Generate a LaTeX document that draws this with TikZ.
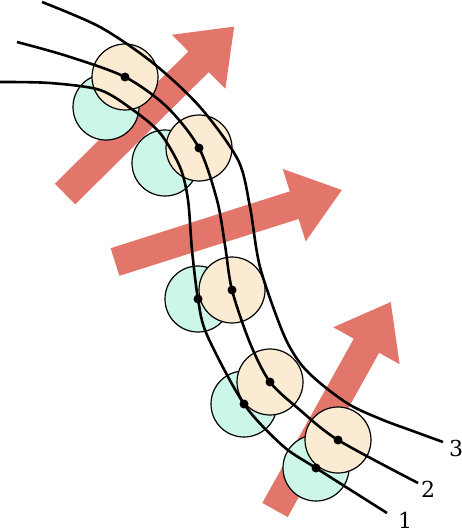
\documentclass[tikz,border=0pt]{standalone}
\usepackage{fontspec}
\setmainfont{DejaVu Serif}
\usepackage{xcolor}
\usetikzlibrary{positioning, calc}

\definecolor{arrowred}{HTML}{E2766A}
\definecolor{beadbeige}{HTML}{FBEBD2}
\definecolor{beadmint}{HTML}{CCF7E8}

\tikzset{
  bead/.style={circle, draw=black, line width=1.2pt, minimum size=66pt, inner sep=0pt},
  beigebead/.style={bead, fill=beadbeige},
  mintbead/.style={bead, fill=beadmint},
  streamline/.style={line width=2.6pt},
  beaddot/.style={circle, fill=black, minimum size=9pt, inner sep=0pt},
  linelabel/.style={font=\fontsize{22}{26}\selectfont, inner sep=0pt}
}

% big flow arrow: tail point, angle
\newcommand{\flowarrow}[2]{%
  \fill[arrowred, shift={(#1)}, rotate=#2]
    (0,-14.5) -- (188,-14.5) -- (188,-38) -- (238,0) -- (188,38) -- (188,14.5) -- (0,14.5) -- cycle;}

\begin{document}
\begin{tikzpicture}[x=1pt, y=-1pt]
\useasboundingbox (0,0) rectangle (462,532);

% Flow arrows
\flowarrow{65,194}{44.7}
\flowarrow{115,262}{17.6}
\flowarrow{275,510}{60.9}

% Mint beads
\node[mintbead] (m1) at (106,107) {};
\node[mintbead] (m2) at (165,163) {};
\node[mintbead] (m3) at (198,299) {};
\node[mintbead] (m4) at (244,404) {};
\node[mintbead] (m5) at (316,468) {};

% Beige beads
\node[beigebead] (b1) at (125,77) {};
\node[beigebead] (b2) at (199,148) {};
\node[beigebead] (b3) at (232,290) {};
\node[beigebead] (b4) at (270,382) {};
\node[beigebead] (b5) at (338,440) {};

% Labels
\node[linelabel] (l1) at (405,520) {1};
\node[linelabel] (l2) at (428,489) {2};
\node[linelabel] (l3) at (456,448) {3};

% Line 1
\draw[streamline] plot[smooth] coordinates {(0,82) (50,83) (100,90) (133,110) (160,133) (180,167)
  (188,200) (192,250) (198,299) (207,335) (244,404) (283,446) (316,468) (387,513)};
% Line 2
\draw[streamline] plot[smooth] coordinates {(17,42) (67,56) (125,77) (167,107) (199,148) (217,200)
  (225,245) (232,290) (250,343) (270,382) (300,410) (338,440) (418,483)};
% Line 3
\draw[streamline] plot[smooth] coordinates {(42,2) (100,27) (153,63) (200,107) (238,160) (250,207)
  (260,267) (283,333) (300,363) (320,383) (350,405) (383,420) (410,430) (443,442)};

% Centre dots
\foreach \b in {b1,b2,b3,b4,b5}
  \node[beaddot] (\b dot) at (\b) {};
\foreach \m in {m3,m4,m5}
  \node[beaddot] (\m dot) at (\m) {};
\end{tikzpicture}
\end{document}
